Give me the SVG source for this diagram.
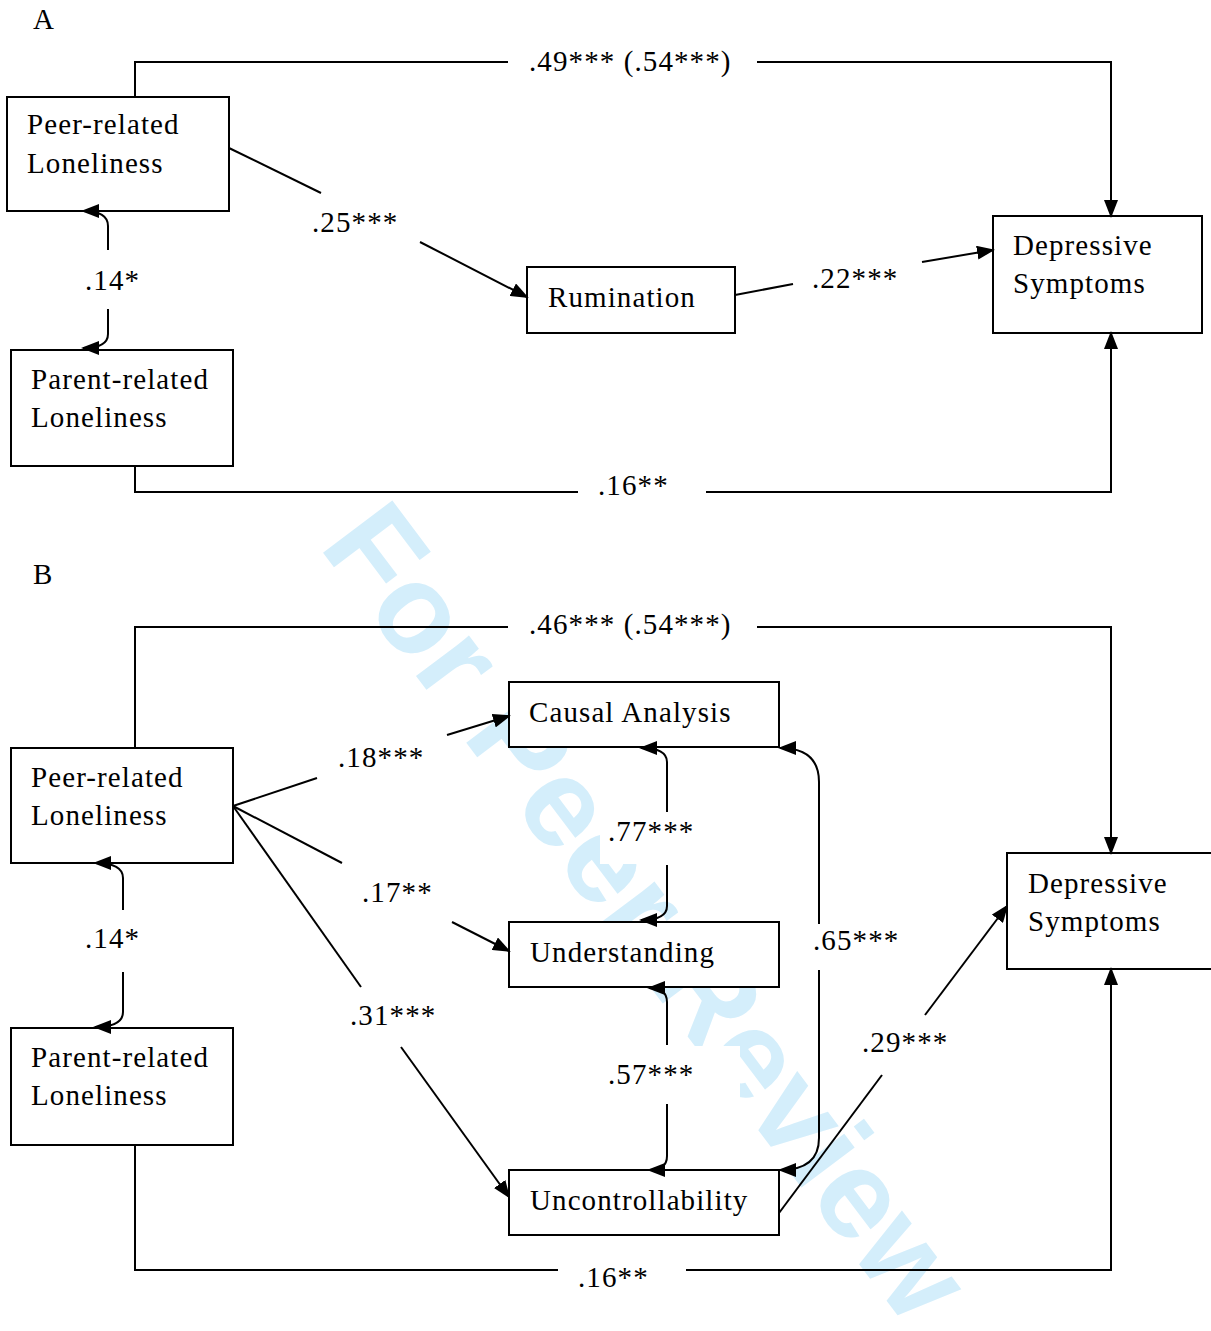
<svg xmlns="http://www.w3.org/2000/svg" width="1211" height="1331" viewBox="0 0 1211 1331">
<defs>
<marker id="ah" markerWidth="18" markerHeight="14" refX="16" refY="7" orient="auto" markerUnits="userSpaceOnUse"><path d="M0,0 L18,7 L0,14 z" fill="#000"/></marker>
<style>
.t{font-family:"Liberation Serif","Times New Roman",serif;font-size:29px;letter-spacing:1.1px;fill:#000}
.box{fill:#fff;stroke:#000;stroke-width:2}
.c{fill:none;stroke:#000;stroke-width:2}
.a{marker-end:url(#ah)}
.bg{fill:#fff}
.wm{font-family:"Liberation Sans",Arial,sans-serif;font-weight:bold;font-size:126px;fill:#d4eefb}
</style>
</defs>
<rect width="1211" height="1331" fill="#fff"/>
<text class="wm" transform="translate(318,546) rotate(53)">For Peer Review</text>

<text class="t" x="33" y="29" style="letter-spacing:0">A</text>
<text class="t" x="33" y="584" style="letter-spacing:0">B</text>

<g id="nodeA_peer"><rect class="box" x="7" y="97" width="222" height="114"/><text class="t" x="27" y="134">Peer-related</text><text class="t" x="27" y="173">Loneliness</text></g>
<g id="nodeA_parent"><rect class="box" x="11" y="350" width="222" height="116"/><text class="t" x="31" y="389">Parent-related</text><text class="t" x="31" y="427">Loneliness</text></g>
<g id="nodeA_rumination"><rect class="box" x="527" y="267" width="208" height="66"/><text class="t" x="548" y="307">Rumination</text></g>
<g id="nodeA_depressive"><rect class="box" x="993" y="216" width="209" height="117"/><text class="t" x="1013" y="255">Depressive</text><text class="t" x="1013" y="293">Symptoms</text></g>

<g id="nodeB_peer"><rect class="box" x="11" y="748" width="222" height="115"/><text class="t" x="31" y="787">Peer-related</text><text class="t" x="31" y="825">Loneliness</text></g>
<g id="nodeB_parent"><rect class="box" x="11" y="1028" width="222" height="117"/><text class="t" x="31" y="1067">Parent-related</text><text class="t" x="31" y="1105">Loneliness</text></g>
<g id="nodeB_causal"><rect class="box" x="509" y="682" width="270" height="65"/><text class="t" x="529" y="722">Causal Analysis</text></g>
<g id="nodeB_understanding"><rect class="box" x="509" y="922" width="270" height="65"/><text class="t" x="530" y="962">Understanding</text></g>
<g id="nodeB_uncontrollability"><rect class="box" x="509" y="1170" width="270" height="65"/><text class="t" x="530" y="1210">Uncontrollability</text></g>
<g id="nodeB_depressive"><rect class="box" x="1007" y="853" width="215" height="116"/><text class="t" x="1028" y="893">Depressive</text><text class="t" x="1028" y="931">Symptoms</text></g>

<g id="connectors">
<!-- Panel A -->
<path class="c" d="M135,96 V62 H508"/>
<path class="c a" d="M757,62 H1111 V216"/>
<path class="c" d="M229,148 L321,193"/>
<path class="c a" d="M420,242 L527,297"/>
<path class="c" d="M735,295 L793,284"/>
<path class="c a" d="M922,262 L993,250"/>
<path class="c" d="M135,466 V492 H578"/>
<path class="c a" d="M706,492 H1111 V333"/>
<path class="c a" d="M108,250 V226 Q108,211 83,211"/>
<path class="c a" d="M108,309 V334 Q108,348 83,348"/>
<!-- Panel B -->
<path class="c" d="M135,748 V627 H508"/>
<path class="c a" d="M757,627 H1111 V853"/>
<path class="c" d="M233,806 L317,778"/>
<path class="c a" d="M447,735 L509,716"/>
<path class="c" d="M233,806 L342,863"/>
<path class="c a" d="M452,922 L509,951"/>
<path class="c" d="M233,806 L361,987"/>
<path class="c a" d="M401,1047 L509,1197"/>
<path class="c a" d="M667,812 V762 Q667,748 641,748"/>
<path class="c a" d="M667,865 V906 Q667,920 641,920"/>
<path class="c a" d="M667,1045 V1002 Q667,988 649,988"/>
<path class="c a" d="M667,1104 V1156 Q667,1170 649,1170"/>
<path class="c a" d="M819,924 V782 Q819,748 780,748"/>
<path class="c a" d="M819,970 V1138 Q819,1170 780,1170"/>
<path class="c" d="M779,1213 L882,1075"/>
<path class="c a" d="M925,1015 L1007,906"/>
<path class="c" d="M135,1145 V1270 H558"/>
<path class="c a" d="M686,1270 H1111 V969"/>
<path class="c a" d="M123,910 V878 Q123,863 95,863"/>
<path class="c a" d="M123,972 V1012 Q123,1027 95,1027"/>
</g>

<g id="labels">
<text class="t" x="529" y="71">.49*** (.54***)</text>
<text class="t" x="312" y="232">.25***</text>
<text class="t" x="812" y="288">.22***</text>
<text class="t" x="598" y="495">.16**</text>
<text class="t" x="85" y="290">.14*</text>

<text class="t" x="529" y="634">.46*** (.54***)</text>
<text class="t" x="338" y="767">.18***</text>
<text class="t" x="362" y="902">.17**</text>
<text class="t" x="350" y="1025">.31***</text>
<rect class="bg" x="600" y="813" width="140" height="51"/>
<text class="t" x="608" y="841">.77***</text>
<rect class="bg" x="600" y="1046" width="140" height="57"/>
<text class="t" x="608" y="1084">.57***</text>
<text class="t" x="813" y="950">.65***</text>
<text class="t" x="862" y="1052">.29***</text>
<text class="t" x="578" y="1287">.16**</text>
<text class="t" x="85" y="948">.14*</text>
</g>
</svg>
